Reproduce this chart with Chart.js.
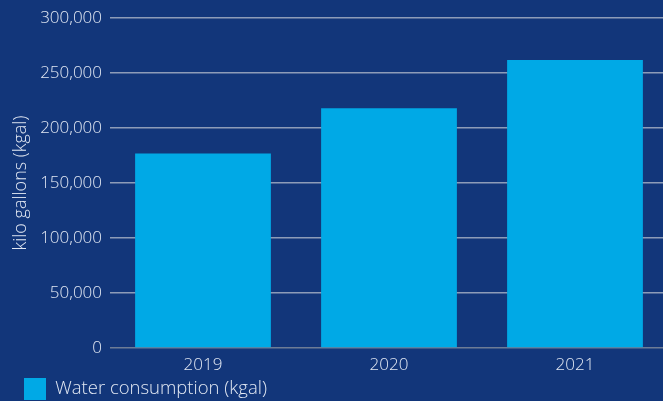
<!DOCTYPE html>
<html><head><meta charset="utf-8">
<script src="https://cdn.jsdelivr.net/npm/chart.js@4"></script>
<style>html,body{margin:0;padding:0;background:#12367a;overflow:hidden;width:663px;height:401px;}#wrap{width:668px;height:410px;position:relative;}</style>
</head><body><div id="wrap"><canvas id="c"></canvas></div>
<script>
const categories = ["2019", "2020", "2021"];
const waterConsumption = [177000, 218000, 262000];
const seriesLabel = "Water consumption (kgal)";
const yTitle = "kilo gallons (kgal)";

const txt = "#e2e8f3";
const fam = "'Open Sans'";
new Chart(document.getElementById("c"), {
  type: "bar",
  data: { labels: categories, datasets: [{ label: seriesLabel, data: waterConsumption, backgroundColor: "#00a9e6", barPercentage: 0.73, categoryPercentage: 1 }] },
  options: {
    responsive: true, maintainAspectRatio: false, animation: false,
    layout: { padding: { top: 8, right: 0, left: 24, bottom: 0 } },
    scales: {
      x: {
        grid: { display: false, drawTicks: false },
        border: { display: false },
        ticks: { color: txt, font: { family: fam, size: 17, weight: 300 }, padding: 7 },
        afterFit: s => { s.height = 30; }
      },
      y: {
        min: 0, max: 300000,
        ticks: { stepSize: 50000, color: txt, font: { family: fam, size: 17, weight: 300 }, padding: 8,
          callback: v => v.toLocaleString("en-US") },
        grid: { color: ctx => ctx.tick && ctx.tick.value === 0 ? "#6d7c96" : "#8d9cb8", lineWidth: 1.5, drawTicks: false },
        border: { display: false },
        title: { display: true, text: yTitle, color: txt, font: { family: fam, size: 18, weight: 300 }, padding: { top: -14, bottom: 0 } },
        afterFit: s => { s.width = 86; }
      }
    },
    plugins: {
      legend: { position: "bottom", align: "start",
        labels: { color: txt, font: { family: fam, size: 18.5, weight: 300 }, boxWidth: 22, boxHeight: 22, padding: 0 } },
      tooltip: { enabled: false }
    }
  }
});
</script></body></html>
